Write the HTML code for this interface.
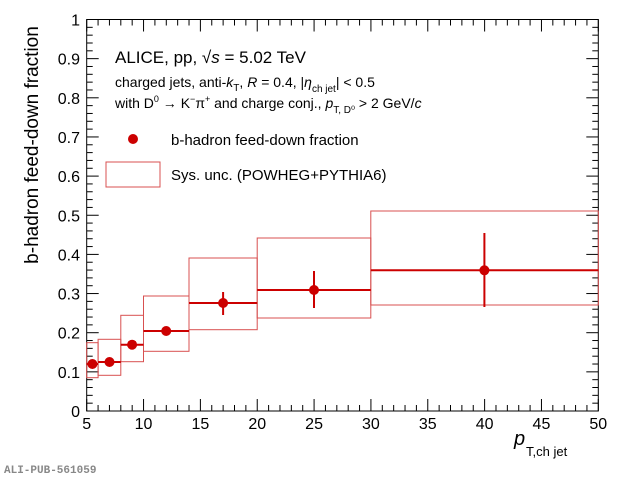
<!DOCTYPE html>
<html><head><style>
body{margin:0;background:#fff}
svg{display:block;font-family:"Liberation Sans",sans-serif}
</style></head><body>
<svg width="620" height="481" viewBox="0 0 620 481" xmlns="http://www.w3.org/2000/svg">
<g id="ticks" stroke="#000" stroke-width="1"></g>
<rect x="86.7" y="19.5" width="511.6" height="391.5" fill="none" stroke="#000" stroke-width="1"/>
<!-- sys boxes -->
<g fill="none" stroke="#d85050" stroke-width="1">
<rect x="86.7" y="342.7" width="11.4" height="35"/>
<rect x="98.1" y="339.3" width="22.7" height="36"/>
<rect x="120.8" y="315.3" width="22.7" height="46.4"/>
<rect x="143.5" y="296" width="45.5" height="55.3"/>
<rect x="189" y="258" width="68.2" height="71.7"/>
<rect x="257.2" y="238" width="113.6" height="80"/>
<rect x="370.8" y="211" width="227.5" height="94"/>
</g>
<!-- data -->
<g stroke="#cc0000" stroke-width="2">
<line x1="86.7" y1="364" x2="98.1" y2="364"/>
<line x1="98.1" y1="362" x2="120.8" y2="362"/>
<line x1="120.8" y1="344.7" x2="143.5" y2="344.7"/>
<line x1="143.5" y1="331" x2="189" y2="331"/>
<line x1="189" y1="303" x2="257.2" y2="303"/>
<line x1="223.1" y1="292" x2="223.1" y2="315"/>
<line x1="257.2" y1="290" x2="370.8" y2="290"/>
<line x1="314" y1="271" x2="314" y2="308"/>
<line x1="370.8" y1="270.3" x2="598.3" y2="270.3"/>
<line x1="484.4" y1="233" x2="484.4" y2="307"/>
</g>
<g fill="#cc0000">
<circle cx="92.4" cy="364" r="5"/>
<circle cx="109.5" cy="362" r="5"/>
<circle cx="132.1" cy="344.7" r="5"/>
<circle cx="166.2" cy="331" r="5"/>
<circle cx="223.1" cy="303" r="5"/>
<circle cx="314" cy="290" r="5"/>
<circle cx="484.4" cy="270.3" r="5"/>
</g>
<g font-size="16" text-anchor="middle" id="xl"></g>
<g font-size="16" text-anchor="end" id="yl"></g>
<text x="0" y="0" font-size="19" transform="translate(38,145) rotate(-90)" text-anchor="middle">b-hadron feed-down fraction</text>
<text x="514" y="445" font-size="20" font-style="italic">p</text>
<text x="526" y="456" font-size="13">T,ch jet</text>
<text x="115" y="63" font-size="17">ALICE, pp, √<tspan font-style="italic">s</tspan> = 5.02 TeV</text>
<text x="115" y="87" font-size="14">charged jets, anti-<tspan font-style="italic">k</tspan><tspan font-size="10" dy="4">T</tspan><tspan dy="-4">, </tspan><tspan font-style="italic">R</tspan> = 0.4, |<tspan font-style="italic">η</tspan><tspan font-size="10" dy="5">ch jet</tspan><tspan dy="-5">| &lt; 0.5</tspan></text>
<text x="115" y="108" font-size="14">with D<tspan font-size="9" dy="-6">0</tspan><tspan dy="6"> → K</tspan><tspan font-size="9" dy="-6">−</tspan><tspan dy="6">π</tspan><tspan font-size="9" dy="-6">+</tspan><tspan dy="6"> and charge conj., </tspan><tspan font-style="italic">p</tspan><tspan font-size="10" dy="5">T, D⁰</tspan><tspan dy="-5"> &gt; 2 GeV/</tspan><tspan font-style="italic">c</tspan></text>
<circle cx="133" cy="139" r="5" fill="#cc0000"/>
<text x="171" y="145" font-size="15">b-hadron feed-down fraction</text>
<rect x="106" y="162" width="54" height="25" fill="none" stroke="#d85050"/>
<text x="171" y="180" font-size="15">Sys. unc. (POWHEG+PYTHIA6)</text>
<text x="4" y="473" font-size="11" font-family="Liberation Mono,monospace" font-weight="bold" fill="#888">ALI-PUB-561059</text>
</svg>
<script>
var ns="http://www.w3.org/2000/svg",t=document.getElementById("ticks"),X=function(v){return 86.7+(v-5)*11.369},Y=function(v){return 411-v*391.5};
function L(a,b,c,d){var l=document.createElementNS(ns,"line");l.setAttribute("x1",a);l.setAttribute("y1",b);l.setAttribute("x2",c);l.setAttribute("y2",d);t.appendChild(l);}
for(var v=5;v<=50;v+=1){var x=X(v),len=(v%5==0)?12:6;L(x,411,x,411-len);L(x,19.5,x,19.5+len);}
for(var i=0;i<=50;i++){var y=Y(i/50),len=(i%5==0)?12:6;L(86.7,y,86.7+len,y);L(598.3,y,598.3-len,y);}
var xl=document.getElementById("xl");
for(var v=5;v<=50;v+=5){var s=document.createElementNS(ns,"text");s.setAttribute("x",X(v));s.setAttribute("y",429);s.textContent=v;xl.appendChild(s);}
var yl=document.getElementById("yl");
for(var i=0;i<=10;i++){var s=document.createElementNS(ns,"text");s.setAttribute("x",80);s.setAttribute("y",Y(i/10)+6);s.textContent=i==0?"0":(i==10?"1":(i/10).toFixed(1));yl.appendChild(s);}
</script>
</body></html>
